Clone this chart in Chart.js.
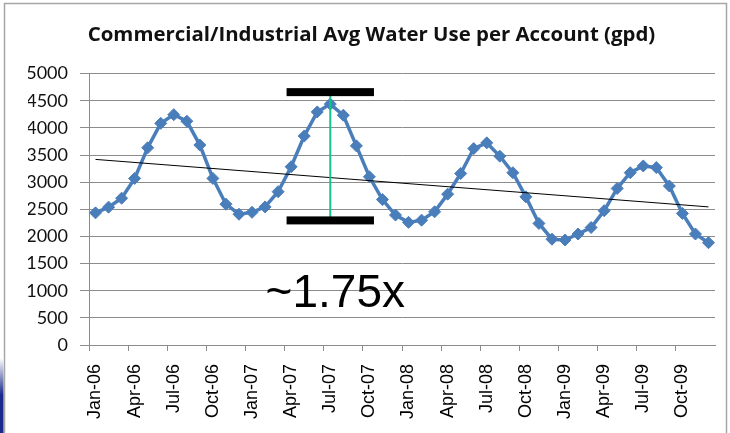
<!DOCTYPE html>
<html>
<head>
<meta charset="utf-8">
<script src="https://cdn.jsdelivr.net/npm/chart.js@4.4.1/dist/chart.umd.min.js"></script>
<style>
  html, body { margin: 0; padding: 0; background: #fff; }
  #wrap { width: 730px; height: 433px; position: relative; }
</style>
</head>
<body>
<div id="wrap"><canvas id="c" width="730" height="433"></canvas></div>
<script>
// Monthly periods, Jan-06 .. Dec-09
const months = [
  'Jan-06','Feb-06','Mar-06','Apr-06','May-06','Jun-06','Jul-06','Aug-06','Sep-06','Oct-06','Nov-06','Dec-06',
  'Jan-07','Feb-07','Mar-07','Apr-07','May-07','Jun-07','Jul-07','Aug-07','Sep-07','Oct-07','Nov-07','Dec-07',
  'Jan-08','Feb-08','Mar-08','Apr-08','May-08','Jun-08','Jul-08','Aug-08','Sep-08','Oct-08','Nov-08','Dec-08',
  'Jan-09','Feb-09','Mar-09','Apr-09','May-09','Jun-09','Jul-09','Aug-09','Sep-09','Oct-09','Nov-09','Dec-09'
];

// Average water use per account, gallons per day
const avgUseGpd = [
  2435, 2540, 2705, 3070, 3635, 4085, 4245, 4125, 3685, 3070, 2595, 2410,
  2445, 2545, 2825, 3285, 3850, 4295, 4440, 4235, 3670, 3100, 2680, 2395,
  2260, 2300, 2455, 2780, 3160, 3620, 3725, 3480, 3175, 2730, 2240, 1950,
  1935, 2045, 2165, 2475, 2885, 3175, 3300, 3270, 2930, 2425, 2045, 1885
];

// Linear trend, start and end values
const trendEnds = [3420, 2545];

// Y axis ticks
const yTicks = [0, 500, 1000, 1500, 2000, 2500, 3000, 3500, 4000, 4500, 5000];

// Peak/trough bracket around Jul-07
const bracketMonth = 'Jul-07';
const bracketValues = [4660, 2296];
const bracketLabel = '~1.75x';
const bracketLabelValue = 700;

const trendData = months.map((m, i) =>
  i === 0 ? trendEnds[0] : (i === months.length - 1 ? trendEnds[1] : null));

const GRID = '#8c8c8c';
const BLUE = '#4a7ebb';

// Slide frame and white background
const framePlugin = {
  id: 'frame',
  beforeDraw(chart) {
    const ctx = chart.ctx;
    ctx.save();
    ctx.fillStyle = '#fff';
    ctx.fillRect(0, 0, chart.width, chart.height);
    ctx.strokeStyle = '#a6a6a6';
    ctx.lineWidth = 1.5;
    ctx.strokeRect(4.5, 3.5, 722, 460);
    const g = ctx.createLinearGradient(0, 358, 0, 395);
    g.addColorStop(0, '#ffffff');
    g.addColorStop(1, '#1a2a8c');
    ctx.fillStyle = g;
    ctx.fillRect(0, 358, 3.5, 75);
    ctx.restore();
  }
};

// Bracket marking the seasonal swing
const bracketPlugin = {
  id: 'bracket',
  afterDatasetsDraw(chart) {
    const x = chart.scales.x, y = chart.scales.y, ctx = chart.ctx;
    const cx = x.getPixelForValue(months.indexOf(bracketMonth));
    const cw = x.width / months.length;
    const half = cw * 3.35;
    const yTop = y.getPixelForValue(bracketValues[0]);
    const yBot = y.getPixelForValue(bracketValues[1]);
    ctx.save();
    ctx.strokeStyle = '#14c48e';
    ctx.lineWidth = 2;
    ctx.beginPath();
    ctx.moveTo(cx, yTop);
    ctx.lineTo(cx, yBot);
    ctx.stroke();
    ctx.fillStyle = '#000';
    ctx.fillRect(cx - half, yTop - 4, half * 2, 8);
    ctx.fillRect(cx - half, yBot - 4, half * 2, 8);
    ctx.font = '46px "Liberation Sans", Arial, sans-serif';
    ctx.textAlign = 'center';
    ctx.textBaseline = 'alphabetic';
    ctx.fillText(bracketLabel, cx + 5, y.getPixelForValue(bracketLabelValue));
    ctx.restore();
  }
};

new Chart(document.getElementById('c'), {
  type: 'line',
  data: {
    labels: months,
    datasets: [
      {
        label: 'Linear trend',
        data: trendData,
        spanGaps: true,
        borderColor: '#000',
        borderWidth: 1,
        pointRadius: 0,
        tension: 0,
        order: 0
      },
      {
        label: 'Avg water use',
        data: avgUseGpd,
        borderColor: BLUE,
        backgroundColor: BLUE,
        borderWidth: 3.5,
        pointStyle: 'rectRot',
        pointRadius: 6,
        pointBorderWidth: 1,
        pointBackgroundColor: BLUE,
        pointBorderColor: BLUE,
        tension: 0,
        order: 1
      }
    ]
  },
  plugins: [framePlugin, bracketPlugin],
  options: {
    responsive: false,
    animation: false,
    devicePixelRatio: 1,
    layout: { padding: { left: 28, right: 15, top: 0, bottom: 0 } },
    plugins: {
      legend: { display: false },
      tooltip: { enabled: false },
      title: {
        display: true,
        text: 'Commercial/Industrial Avg Water Use per Account (gpd)',
        color: '#111',
        font: { family: '"Open Sans"', weight: 'bold', size: 20.4, lineHeight: 1.2 },
        padding: { top: 23, bottom: 26.2 }
      }
    },
    scales: {
      x: {
        type: 'category',
        offset: true,
        grid: {
          offset: true,
          drawOnChartArea: false,
          drawTicks: true,
          tickLength: 6,
          color: (c) => (c.index % 3 === 0 ? GRID : 'rgba(0,0,0,0)')
        },
        border: { display: true, color: GRID, width: 1 },
        ticks: {
          autoSkip: false,
          maxRotation: 90,
          minRotation: 90,
          padding: 13,
          color: '#000',
          font: { family: '"Liberation Sans", Arial, sans-serif', size: 18 },
          callback: (v, i) => (i % 3 === 0 ? months[i] : '')
        },
        afterFit(s) {
          s.height = 88;
          s.paddingLeft = 0;
          s.paddingRight = 0;
        }
      },
      y: {
        min: 0,
        max: 5000,
        afterBuildTicks(s) { s.ticks = yTicks.map(v => ({ value: v })); },
        grid: { color: GRID, lineWidth: 1, tickLength: 9 },
        border: { display: true, color: GRID, width: 1 },
        ticks: {
          padding: 12,
          color: '#111',
          font: { family: 'Lato', size: 18 },
          callback: (v) => String(v)
        },
        afterFit(s) { s.width = 61; }
      }
    }
  }
});
</script>
</body>
</html>
